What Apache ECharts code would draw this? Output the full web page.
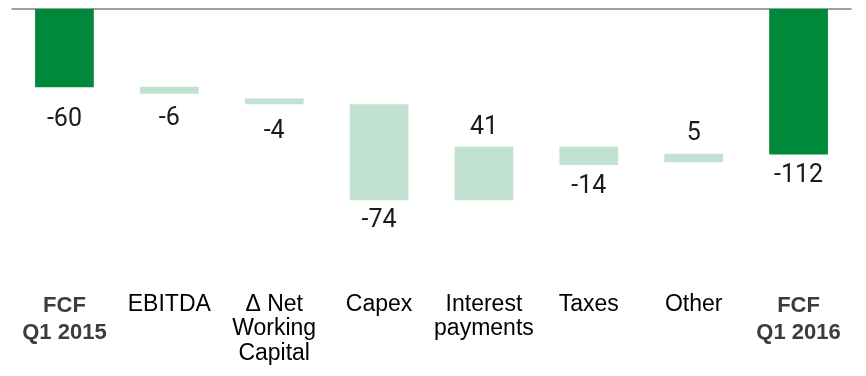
<!DOCTYPE html>
<html lang="en">
<head>
    <meta charset="UTF-8">
    <script src="https://cdn.jsdelivr.net/npm/echarts@6/dist/echarts.min.js"></script>
    <title>FCF bridge</title>
    <style type="text/css">
        html, body { margin: 0; padding: 0; background: #fff; }
        #chart { width: 866px; height: 376px; }
    </style>
</head>
<body>
<div id="chart"></div>

<script type="text/javascript">

    // categories along the bottom
    const categories = ['FCF\nQ1 2015', 'EBITDA', 'Δ Net\nWorking\nCapital', 'Capex',
        'Interest\npayments', 'Taxes', 'Other', 'FCF\nQ1 2016'];

    // printed values
    const labels = [-60, -6, -4, -74, 41, -14, 5, -112];

    // bar start / end levels
    const barFrom = [0, -59.5, -68.5, -73, -146.5, -105.5, -117.5, 0];
    const barTo = [-60, -65, -73, -146.5, -105.5, -119.5, -111, -111.5];

    // totals get the dark green
    const totals = [true, false, false, false, false, false, false, true];

    const DARK = '#00883b';
    const LIGHT = '#c1e2d0';
    // label gap under/over each bar (the labels were placed by hand in the original)
    const labelGap = [20, 12, 15, 8, 6, 9, 8, 9];

    const baseData = [];
    const barData = [];
    for (let i = 0; i < categories.length; i++) {
        const top = Math.max(barFrom[i], barTo[i]);
        const bottom = Math.min(barFrom[i], barTo[i]);
        baseData.push(top);
        barData.push({
            value: bottom - top,
            itemStyle: { color: totals[i] ? DARK : LIGHT },
            label: { position: labels[i] > 0 ? 'top' : 'bottom', distance: labelGap[i] }
        });
    }

    const myChart = echarts.init(document.getElementById('chart'));

    const option = {
        animation: false,
        grid: {
            left: 12,
            right: 15,
            top: 9,
            bottom: 106,
            containLabel: false,
            outerBoundsMode: 'none'
        },
        xAxis: [{
            type: 'category',
            position: 'top',
            data: categories,
            axisLine: { show: true, onZero: false, lineStyle: { color: '#808080', width: 1.5 } },
            axisTick: { show: false },
            axisLabel: { show: false },
            splitLine: { show: false }
        }, {
            type: 'category',
            position: 'bottom',
            data: categories,
            axisLine: { show: false, onZero: false },
            axisTick: { show: false },
            splitLine: { show: false },
            axisLabel: {
                interval: 0,
                margin: 22,
                fontFamily: 'Liberation Sans',
                fontSize: 23,
                lineHeight: 24.5,
                color: '#000',
                formatter: function (v) {
                    if (v.indexOf('FCF') === 0) {
                        return v.split('\n').map(function (s) { return '{b|' + s + '}'; }).join('\n');
                    }
                    return v;
                },
                rich: {
                    b: {
                        fontFamily: 'Liberation Sans',
                        fontSize: 22,
                        fontWeight: 'bold',
                        lineHeight: 27,
                        color: '#3c3c3c'
                    }
                }
            }
        }],
        yAxis: {
            type: 'value',
            min: -200,
            max: 0,
            show: false
        },
        series: [{
            type: 'bar',
            stack: 'bridge',
            xAxisIndex: 0,
            barWidth: '56%',
            itemStyle: { color: 'transparent' },
            silent: true,
            data: baseData
        }, {
            type: 'bar',
            stack: 'bridge',
            xAxisIndex: 0,
            barWidth: '56%',
            data: barData,
            label: {
                show: true,
                fontFamily: 'Roboto',
                fontSize: 25,
                color: '#1a1a1a',
                formatter: function (p) {
                    return String(labels[p.dataIndex]);
                }
            }
        }]
    };

    myChart.setOption(option);
</script>
</body>
</html>
